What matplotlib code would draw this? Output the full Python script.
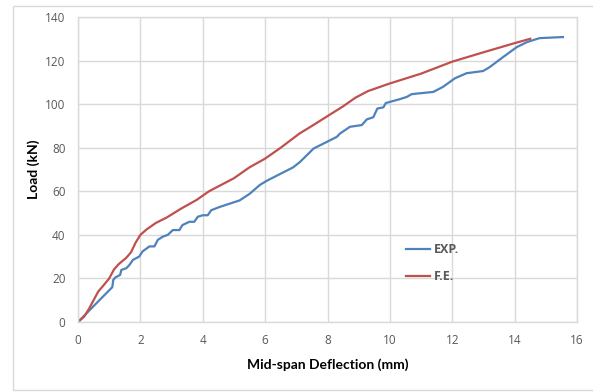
import matplotlib
matplotlib.use("Agg")
import matplotlib.pyplot as plt
from matplotlib.patches import Rectangle

# Experimental load-deflection response
exp_deflection = [0, 0.5, 1.1, 1.13, 1.2, 1.35, 1.39, 1.55, 1.65, 1.76, 1.96, 2.07, 2.29,
                  2.45, 2.56, 2.72, 2.88, 3.04, 3.25, 3.35, 3.57, 3.73, 3.84, 4.0, 4.16,
                  4.27, 4.54, 5.18, 5.5, 5.83, 6.05, 6.9, 7.12, 7.44, 7.55, 7.97, 8.3,
                  8.4, 8.72, 9.1, 9.26, 9.47, 9.53, 9.6, 9.79, 9.87, 10.32, 10.54, 10.7,
                  11.39, 11.7, 12.09, 12.46, 12.99, 13.2, 13.63, 14.07, 14.4, 14.8, 15.55]
exp_load = [0, 7.3, 16, 19.3, 20.5, 21.6, 23.9, 24.7, 26.2, 28.5, 30, 32.4, 34.7,
            34.7, 37.7, 39.2, 40, 42.2, 42.2, 44.5, 46, 46, 48.3, 49, 49,
            51.3, 52.8, 55.8, 58.8, 62.9, 64.8, 71, 73.5, 78, 79.6, 82.6, 85,
            86.5, 89.6, 90.4, 93, 94, 95.9, 98, 98.5, 100.5, 102.3, 103.3, 104.6,
            105.6, 107.9, 111.9, 114.2, 115.2, 117, 121.6, 126.2, 128.5, 130.3, 130.8]

# Finite element prediction
fe_deflection = [0, 0.2, 0.35, 0.5, 0.65, 0.8, 1.0, 1.15, 1.3, 1.55, 1.7, 1.85, 2.0,
                 2.2, 2.5, 2.85, 3.3, 3.8, 4.2, 5.0, 5.5, 6.0, 6.5, 7.1, 7.5, 8.0,
                 8.5, 8.9, 9.3, 10.0, 11.0, 12.0, 13.0, 14.0, 14.5]
fe_load = [0, 2.5, 6, 10, 14, 16.5, 20, 24, 26.5, 29.5, 32, 36.5, 40,
           42.5, 45.5, 48, 52, 56, 60, 66, 71, 75, 80, 86.5, 90, 94.5,
           99, 103, 106, 109.5, 114, 119.5, 123.8, 128, 130]

x_ticks = [0, 2, 4, 6, 8, 10, 12, 14, 16]
y_ticks = [0, 20, 40, 60, 80, 100, 120, 140]

W, H = 593, 392
fig = plt.figure(figsize=(W / 100, H / 100), dpi=100)
fig.patch.set_facecolor("white")

# outer chart frame
fig.patches.append(Rectangle((13 / W, 2 / H), 1.0, (H - 8) / H,
                             transform=fig.transFigure, fill=False,
                             edgecolor="#d9d9d9", linewidth=1.0))

ax = fig.add_axes([78 / W, 1 - 322 / H, (577 - 78) / W, (322 - 17) / H])
ax.plot(exp_deflection, exp_load, color="#4F81BD", lw=1.6, label="EXP.")
ax.plot(fe_deflection, fe_load, color="#C0504D", lw=1.6, label="F.E.")

ax.set_xlim(0, 16)
ax.set_ylim(0, 140)
ax.set_xticks(x_ticks)
ax.set_yticks(y_ticks)
ax.grid(True, color="#d9d9d9", lw=1.0)
ax.set_axisbelow(True)
for s in ax.spines.values():
    s.set_color("#d9d9d9")
    s.set_linewidth(1.0)
ax.tick_params(length=0, labelsize=8.5, labelcolor="#595959", pad=9)
for lbl in ax.get_xticklabels() + ax.get_yticklabels():
    lbl.set_fontfamily("Open Sans")

ax.set_xlabel("Mid-span Deflection (mm)", fontsize=10, fontweight="bold",
              fontfamily="Lato", labelpad=8)
ax.set_ylabel("Load (kN)", fontsize=10, fontweight="bold",
              fontfamily="Lato", labelpad=4)

leg = ax.legend(loc="upper left", bbox_to_anchor=((395 - 78) / 499, (322 - 232) / 305),
                frameon=False, handlelength=1.9, handletextpad=0.3, labelspacing=1.1,
                prop={"family": "Open Sans", "weight": "bold", "size": 9})
for t in leg.get_texts():
    t.set_color("#595959")

fig.savefig("out.png", dpi=100, facecolor="white")
